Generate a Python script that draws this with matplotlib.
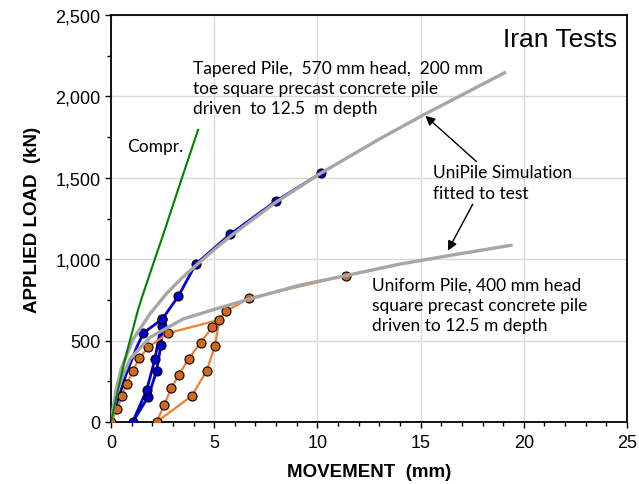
import matplotlib
matplotlib.use("Agg")
import matplotlib.pyplot as plt
from matplotlib.ticker import MultipleLocator, FuncFormatter

# ---- data ----
tapered_x = [0.0, 0.75, 1.28, 1.57, 2.49, 2.49, 2.42, 2.21, 1.81, 1.05, 1.73, 2.13, 2.49, 3.27, 4.10, 5.77, 7.99, 10.16]
tapered_y = [0, 300, 469, 547, 633, 588, 473, 315, 156, 0, 197, 387, 633, 774, 969, 1153, 1357, 1528]
tapered_marker = [False, False, False, True, True, True, True, True, True, True, True, True, True, True, True, True, True, True]

uniform_x = [0.0, 0.31, 0.52, 0.76, 1.05, 1.36, 1.81, 2.75, 5.25, 5.04, 4.63, 3.91, 2.21,
             2.58, 2.92, 3.29, 3.76, 4.34, 4.89, 5.56, 6.69, 11.37]
uniform_y = [0, 82, 158, 233, 311, 391, 459, 545, 628, 469, 313, 160, 0,
             104, 209, 289, 389, 487, 581, 680, 760, 899]

compr_x = [0.0, 0.28, 0.68, 1.32, 1.49, 2.29, 2.46, 3.10, 3.42, 4.22]
compr_y = [0, 162, 387, 694, 762, 1063, 1124, 1370, 1493, 1795]

sim_tapered_x = [0.0, 0.25, 0.5, 1.08, 1.89, 2.7, 3.4, 4.1, 5.04, 5.77, 7.99, 10.16, 13.03, 15.12, 19.14]
sim_tapered_y = [0, 200, 330, 510, 665, 790, 880, 960, 1063, 1140, 1350, 1528, 1740, 1885, 2150]

sim_uniform_x = [0.0, 0.3, 0.92, 1.89, 3.5, 4.96, 6.73, 9.16, 11.37, 14.0, 16.5, 19.46]
sim_uniform_y = [0, 200, 387, 520, 633, 690, 756, 841, 899, 970, 1025, 1087]

x_ticks = [0, 5, 10, 15, 20, 25]
y_ticks = [0, 500, 1000, 1500, 2000, 2500]

# ---- figure ----
plt.rcParams['font.family'] = ['Liberation Sans', 'DejaVu Sans']
fig = plt.figure(figsize=(6.39, 4.85), dpi=100)
ax = fig.add_axes([111/639, 62/485, (627-111)/639, (423-16)/485])

ax.set_xlim(0, 25)
ax.set_ylim(0, 2500)
ax.set_xticks(x_ticks)
ax.set_yticks(y_ticks)
ax.xaxis.set_minor_locator(MultipleLocator(1))
ax.yaxis.set_minor_locator(MultipleLocator(250))
ax.yaxis.set_major_formatter(FuncFormatter(lambda v, p: f"{int(v):,}"))
ax.grid(True, which='major', color='#D9D9D9', linewidth=1.0, zorder=0)
ax.set_axisbelow(True)
ax.tick_params(which='both', direction='out', labelsize=13, colors='black')
ax.tick_params(which='major', length=4, width=1)
ax.tick_params(which='minor', length=3, width=1)
ax.tick_params(axis='x', which='major', pad=5)
for s in ax.spines.values():
    s.set_linewidth(1.3)
    s.set_color('black')

# tapered pile test (blue)
ax.plot(tapered_x, tapered_y, color='#0000CC', linewidth=2.0, zorder=3)
mx = [x for x, m in zip(tapered_x, tapered_marker) if m]
my = [y for y, m in zip(tapered_y, tapered_marker) if m]
ax.plot(mx, my, linestyle='none', marker='o', markersize=6.5,
        markerfacecolor='#0000CC', markeredgecolor='black', markeredgewidth=0.8, zorder=4)

# uniform pile test (orange)
ax.plot(uniform_x, uniform_y, color='#F08030', linewidth=1.6, zorder=3)
ax.plot(uniform_x, uniform_y, linestyle='none', marker='o', markersize=6.5,
        markerfacecolor='#D2691E', markeredgecolor='black', markeredgewidth=0.8, zorder=4)

# simulations (gray)
ax.plot(sim_tapered_x, sim_tapered_y, color='#A6A6A6', linewidth=2.4, zorder=5,
        solid_capstyle='butt', solid_joinstyle='round')
ax.plot(sim_uniform_x, sim_uniform_y, color='#A6A6A6', linewidth=2.4, zorder=5,
        solid_capstyle='butt', solid_joinstyle='round')

# compression (green)
ax.plot(compr_x, compr_y, color='#008000', linewidth=1.5, zorder=6)

# labels
ax.set_xlabel('MOVEMENT  (mm)', fontsize=13.5, fontweight='bold', labelpad=8)
ax.set_ylabel('APPLIED LOAD  (kN)', fontsize=13.5, fontweight='bold', labelpad=10)

txt_font = ['Lato', 'DejaVu Sans']
ax.text(24.5, 2350, 'Iran Tests', fontsize=19, ha='right', va='center')
ax.text(0.8, 1698, 'Compr.', fontsize=12.5, family=txt_font, ha='left', va='center')
ax.text(3.95, 2225, 'Tapered Pile,  570 mm head,  200 mm\ntoe square precast concrete pile\ndriven  to 12.5  m depth',
        fontsize=12.5, family=txt_font, ha='left', va='top', linespacing=1.32)
ax.text(15.6, 1582, 'UniPile Simulation\nfitted to test',
        fontsize=12.5, family=txt_font, ha='left', va='top', linespacing=1.32)
ax.text(12.65, 890, 'Uniform Pile, 400 mm head\nsquare precast concrete pile\ndriven to 12.5 m depth',
        fontsize=12.5, family=txt_font, ha='left', va='top', linespacing=1.32)

arrow_kw = dict(arrowstyle='-|>', color='black', lw=1.0, mutation_scale=14)
ax.annotate('', xy=(15.13, 1892), xytext=(17.80, 1589), arrowprops=arrow_kw, zorder=7)
ax.annotate('', xy=(16.26, 1038), xytext=(17.59, 1353), arrowprops=arrow_kw, zorder=7)

fig.savefig('out.png', dpi=100)
